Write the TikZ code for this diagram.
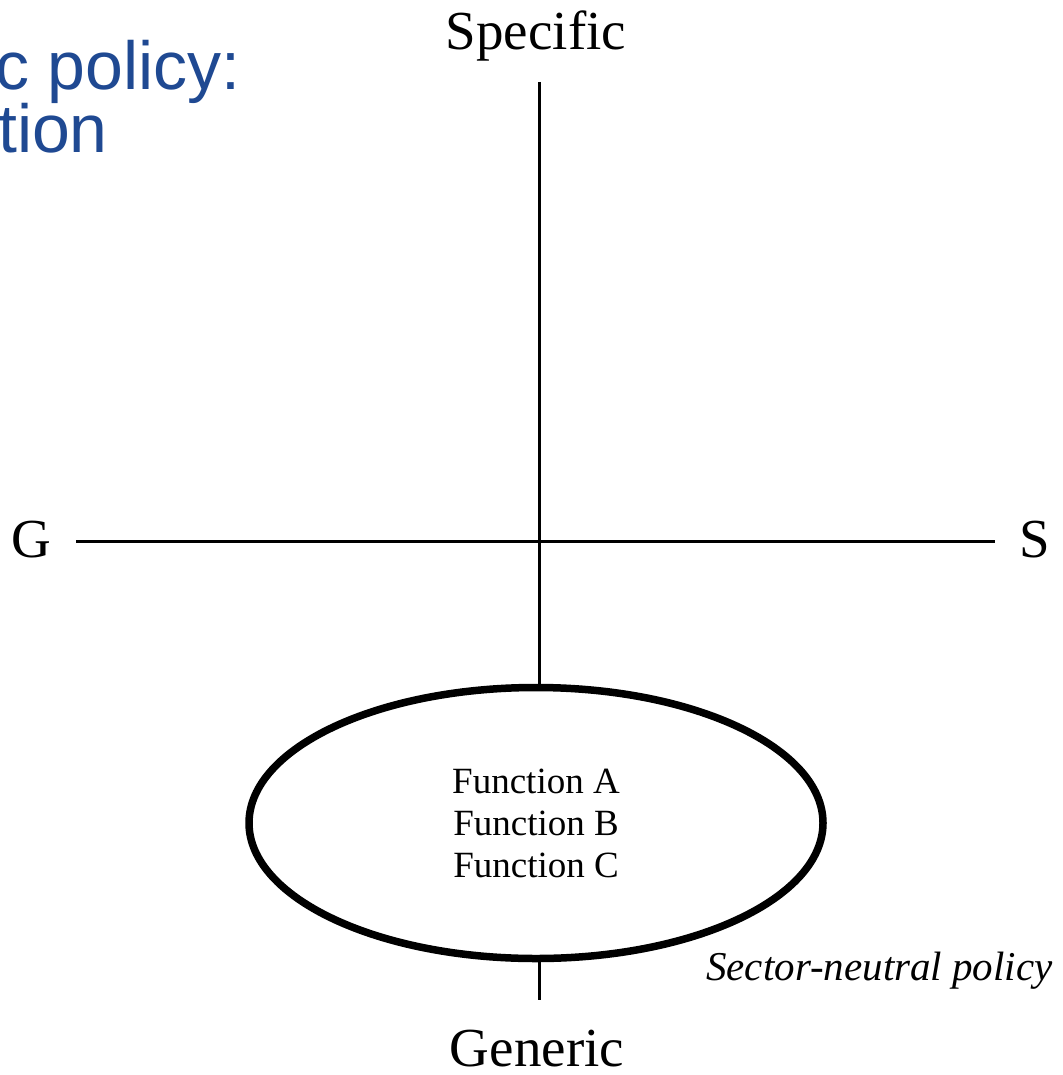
\documentclass[tikz,border=0pt]{standalone}
\usepackage{fontspec}
\setmainfont{Liberation Serif}
\newfontfamily\slidefont{Liberation Sans}
\usetikzlibrary{shapes.geometric}
\definecolor{slideblue}{RGB}{31,73,146}
\tikzset{
	axislabel/.style={font=\fontsize{55}{60}\selectfont, inner sep=0pt, anchor=base},
	axisline/.style={line width=3pt},
	slidetitle/.style={font=\slidefont\fontsize{68}{72}\selectfont, text=slideblue, inner sep=0pt, anchor=base east}
}

\begin{document}
\begin{tikzpicture}[x=1pt, y=-1pt]
	\useasboundingbox (0,0) rectangle (1062,1075);
	% cut-off slide title
	\node [slidetitle] (title1) at (241,90) {c policy:};
	\node [slidetitle] (title2) at (108,153) {tion};

	% axis labels
	\node [axislabel] (specific) at (536,50) {Specific};
	\node [axislabel] (generic) at (537,1066) {Generic};
	\node [axislabel] (g) at (31,557) {G};
	\node [axislabel] (s) at (1035,557) {S};

	% axes
	\coordinate (top) at (539,82);
	\coordinate (bottom) at (539,1000);
	\coordinate (left) at (76,541);
	\coordinate (right) at (995,541);
	\draw [axisline] (top) -- (bottom);
	\draw [axisline] (left) -- (right);

	% sector-neutral functions
	\node [ellipse, draw, line width=7.5pt, fill=white, minimum width=574, minimum height=271,
		align=center, font=\fontsize{37}{42}\selectfont] (funcs) at (536,823)
		{Function A\\Function B\\Function C};
	\node [font=\itshape\fontsize{41}{44}\selectfont, inner sep=0pt, anchor=base west] (neutral) at (706,980) {Sector-neutral policy};
\end{tikzpicture}
\end{document}
